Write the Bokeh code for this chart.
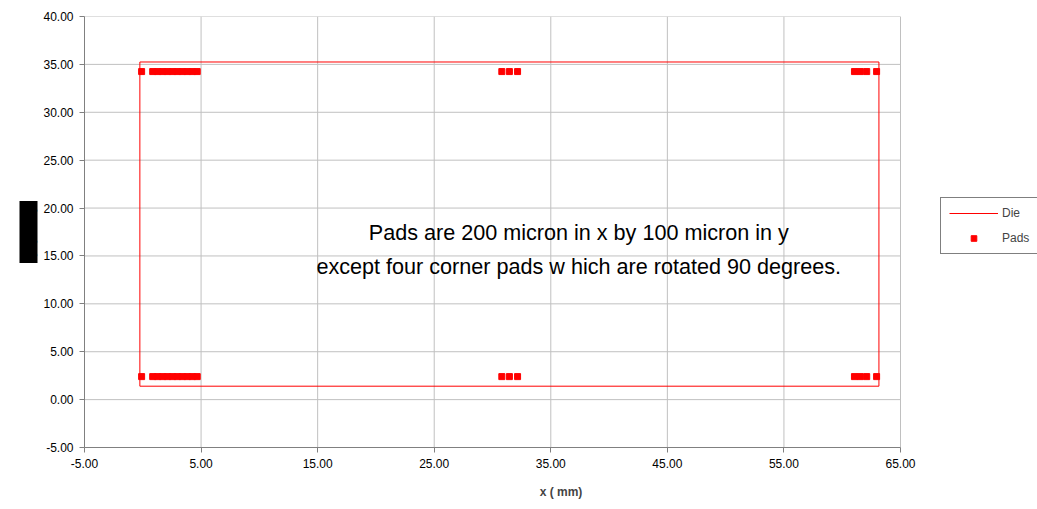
from bokeh.plotting import figure
from bokeh.models import (Range1d, FixedTicker, NumeralTickFormatter, Label, Legend,
                          LegendItem, Title)
from bokeh.embed import file_html
from bokeh.resources import INLINE

# ---- data ----
die_x = [-0.25, 63.15, 63.15, -0.25, -0.25]
die_y = [1.4, 1.4, 35.25, 35.25, 1.4]

pad_row_x = [-0.1, 0.85, 1.27, 1.7, 2.12, 2.55, 2.97, 3.4, 3.82, 4.25, 4.67,
             30.8, 31.45, 32.15, 61.05, 61.55, 62.1, 62.95]
pad_top_y = 34.25
pad_bottom_y = 2.4
pads_x = pad_row_x + pad_row_x
pads_y = [pad_top_y] * len(pad_row_x) + [pad_bottom_y] * len(pad_row_x)

x_ticks = [-5, 5, 15, 25, 35, 45, 55, 65]
y_ticks = [-5, 0, 5, 10, 15, 20, 25, 30, 35, 40]

note_line1 = "Pads are 200 micron in x by 100 micron in y"
note_line2 = "except four corner pads w hich are rotated 90 degrees."
x_title = "x ( mm)"
y_title = "y ( mm)"

FONT = "Liberation Sans"
RED = "#FF0000"
GRID = "#c0c0c0"

x_min, x_max = x_ticks[0], x_ticks[-1]
y_min, y_max = y_ticks[0], y_ticks[-1]
# frame extends past x_max so the outside legend is not clipped
x_view_end = x_min + (1037 - 84) / (816 / (x_max - x_min))

p = figure(width=1037, height=509, output_backend="svg", toolbar_location=None,
           x_range=Range1d(x_min, x_view_end), y_range=Range1d(y_min, y_max),
           min_border_left=84, min_border_right=0, min_border_top=16,
           min_border_bottom=62)
p.outline_line_color = None
p.background_fill_color = "white"
p.xgrid.visible = False
p.ygrid.visible = False

# grid lines limited to the chart area
p.segment(x0=x_ticks, y0=[y_min] * len(x_ticks), x1=x_ticks, y1=[y_max] * len(x_ticks),
          line_color=GRID, line_width=1, level="underlay")
p.segment(x0=[x_min] * len(y_ticks), y0=y_ticks, x1=[x_max] * len(y_ticks), y1=y_ticks,
          line_color=GRID, line_width=1, level="underlay")

# die outline as consecutive edges of the polygon
die_r = p.segment(x0=die_x[:-1], y0=die_y[:-1], x1=die_x[1:], y1=die_y[1:],
                  line_color=RED, line_width=1)
pads_r = p.scatter(pads_x, pads_y, marker="square", size=6, fill_color=RED,
                   line_color=RED)

for ax, ticks in ((p.xaxis, x_ticks), (p.yaxis, y_ticks)):
    ax.ticker = FixedTicker(ticks=ticks)
    ax.formatter = NumeralTickFormatter(format="0.00")
    ax.axis_line_color = "#808080"
    ax.major_tick_line_color = "#808080"
    ax.minor_tick_line_color = None
    ax.major_tick_in = 0
    ax.major_tick_out = 5
    ax.major_label_text_font = FONT
    ax.major_label_text_font_size = "12px"
    ax.major_label_text_color = "black"
p.xaxis.bounds = (x_min, x_max)

p.xaxis.axis_label = x_title
p.xaxis.axis_label_text_font = FONT
p.xaxis.axis_label_text_font_size = "12px"
p.xaxis.axis_label_text_font_style = "bold"
p.xaxis.axis_label_standoff = 14
p.xaxis.major_label_standoff = 6
p.yaxis.major_label_standoff = 6

p.add_layout(Label(x=37.4, y=17.45, text=note_line1, text_align="center",
                   text_baseline="middle", text_font=FONT, text_font_size="21.6px",
                   text_color="black"))
p.add_layout(Label(x=37.4, y=13.9, text=note_line2, text_align="center",
                   text_baseline="middle", text_font=FONT, text_font_size="21.6px",
                   text_color="black"))

# y-axis title shown as a solid black block in the reference
p.add_layout(Title(text=y_title, align="center", text_font=FONT,
                   text_font_size="14px", text_font_style="bold",
                   text_color="black", background_fill_color="black",
                   background_fill_alpha=1.0, padding=(6, 1), standoff=6), "left")

legend = Legend(items=[LegendItem(label="Die", renderers=[die_r], index=0),
                       LegendItem(label="Pads", renderers=[pads_r], index=0)],
                location=(856, 193), margin=0, padding=8, spacing=11,
                glyph_width=49, glyph_height=14, label_height=14,
                label_standoff=4, border_line_color="black", border_line_width=1,
                background_fill_color="white", background_fill_alpha=1.0,
                label_text_font=FONT, label_text_font_size="12px")
p.add_layout(legend, "center")

open("out.html", "w").write(file_html(p, INLINE))
